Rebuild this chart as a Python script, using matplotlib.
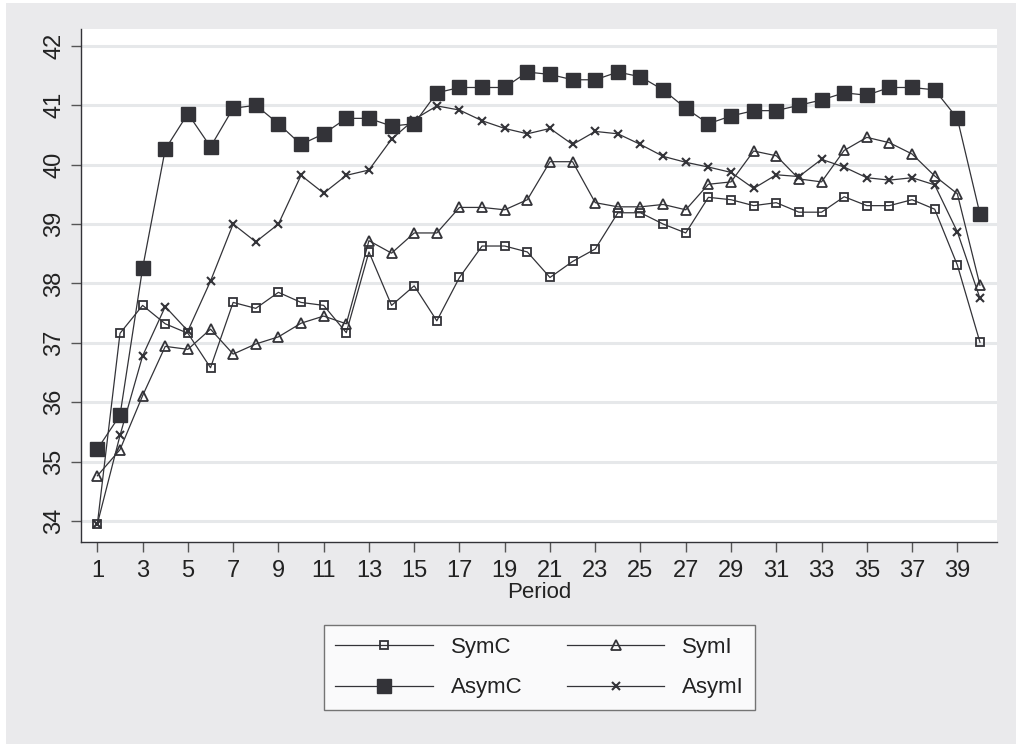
import numpy as np
import matplotlib
matplotlib.use("Agg")
import matplotlib.pyplot as plt
from matplotlib.patches import Rectangle

plt.rcParams['font.family'] = ['Liberation Sans', 'DejaVu Sans']

period = np.arange(1, 41)

sym_c = [33.95, 37.16, 37.63, 37.32, 37.16, 36.58, 37.68, 37.58, 37.85, 37.68,
         37.63, 37.17, 38.53, 37.63, 37.96, 37.37, 38.10, 38.63, 38.63, 38.53,
         38.10, 38.37, 38.58, 39.19, 39.19, 39.00, 38.85, 39.45, 39.41, 39.31,
         39.36, 39.20, 39.20, 39.46, 39.31, 39.31, 39.41, 39.25, 38.31, 37.01]
sym_i = [34.76, 35.20, 36.11, 36.94, 36.89, 37.23, 36.81, 36.98, 37.10, 37.33,
         37.45, 37.32, 38.72, 38.51, 38.85, 38.85, 39.28, 39.28, 39.24, 39.41,
         40.05, 40.05, 39.36, 39.29, 39.29, 39.33, 39.24, 39.67, 39.71, 40.23,
         40.15, 39.76, 39.71, 40.24, 40.46, 40.37, 40.18, 39.81, 39.51, 37.97]
asym_c = [35.21, 35.78, 38.26, 40.26, 40.86, 40.30, 40.95, 41.00, 40.69, 40.34,
          40.52, 40.78, 40.78, 40.65, 40.69, 41.21, 41.30, 41.30, 41.30, 41.56,
          41.52, 41.43, 41.43, 41.56, 41.48, 41.26, 40.95, 40.69, 40.82, 40.91,
          40.91, 41.00, 41.09, 41.21, 41.17, 41.30, 41.30, 41.26, 40.78, 39.17]
asym_i = [33.95, 35.44, 36.78, 37.61, 37.20, 38.04, 39.00, 38.70, 39.00, 39.82,
          39.52, 39.82, 39.91, 40.43, 40.76, 40.99, 40.92, 40.74, 40.61, 40.52,
          40.61, 40.34, 40.56, 40.52, 40.34, 40.14, 40.04, 39.96, 39.87, 39.60,
          39.83, 39.80, 40.09, 39.96, 39.78, 39.74, 39.78, 39.66, 38.87, 37.75]

BG = "#eaeaec"
INK = "#333338"

fig = plt.figure(figsize=(10.16, 7.44), dpi=100, facecolor="white")
# grey graph region, with a thin white margin at top and left
fig.patches.append(Rectangle((6/1016, 0), 1, 1-3/744, transform=fig.transFigure,
                             facecolor=BG, edgecolor="none", zorder=-10))
ax = fig.add_axes([81.3/1016, 1-542.3/744, (996.7-81.3)/1016, (542.3-29.3)/744])
ax.set_facecolor("white")

kw = dict(color=INK, lw=0.9)
ax.plot(period, sym_c, marker="s", ms=5.3, mfc="none", mec=INK, mew=1.3, label="SymC", **kw)
ax.plot(period, sym_i, marker="^", ms=6.5, mfc="none", mec=INK, mew=1.3, label="SymI", **kw)
ax.plot(period, asym_c, marker="s", ms=9.5, mfc=INK, mec=INK, label="AsymC", **kw)
ax.plot(period, asym_i, marker="x", ms=5.5, mec=INK, mew=1.5, label="AsymI", **kw)

ax.set_xlim(0.29, 40.74)
ax.set_ylim(33.64, 42.28)
ax.set_xticks(np.arange(1, 41, 2))
ax.set_yticks(np.arange(34, 43, 1))
ax.grid(axis="y", color="#e6e8ea", lw=2.2)
ax.set_axisbelow(True)
for s in ["top", "right"]:
    ax.spines[s].set_visible(False)
for s in ["left", "bottom"]:
    ax.spines[s].set_color(INK)
    ax.spines[s].set_linewidth(1.0)
ax.tick_params(axis="both", length=7.5, width=1.0, color="#555555", labelsize=17,
               labelcolor="#222222")
ax.tick_params(axis="x", pad=5)
ax.tick_params(axis="y", pad=4)
for lab in ax.get_yticklabels():
    lab.set_rotation(90)
    lab.set_va("center")
ax.set_xlabel("Period", fontsize=16, color="#222222", labelpad=0)

handles, labels = ax.get_legend_handles_labels()
order = [0, 2, 1, 3]
leg = fig.legend([handles[i] for i in order], [labels[i] for i in order],
                 ncol=2, loc="center", bbox_to_anchor=(539.5/1016, 1-667.5/744),
                 fontsize=16, frameon=True, fancybox=False, edgecolor="#555555",
                 handlelength=4.4, handletextpad=0.8, columnspacing=2.0,
                 labelspacing=0.9, borderpad=0.5)
leg.get_frame().set_linewidth(1.0)
for t in leg.get_texts():
    t.set_color("#222222")

fig.savefig("out.png", dpi=100, facecolor="white")
